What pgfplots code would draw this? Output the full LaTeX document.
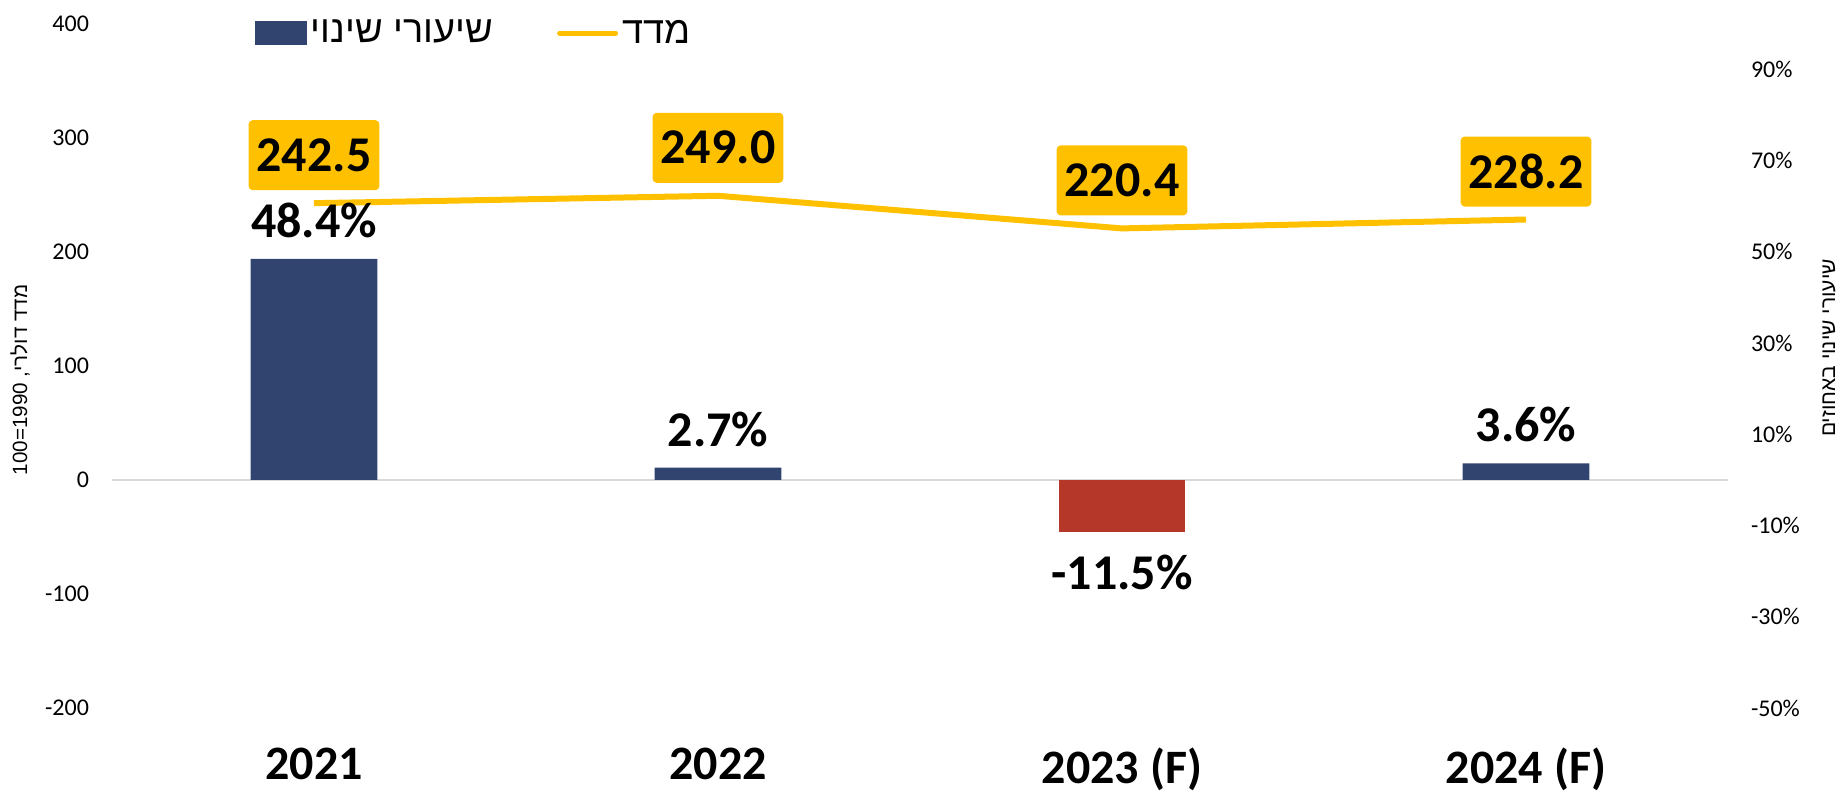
\documentclass[border=0pt]{standalone}
\usepackage{fontspec}
\setmainfont{Carlito}
\newfontfamily\heb[Script=Hebrew]{Liberation Sans}
\newfontfamily\arial{Liberation Sans}
\TeXXeTstate=1
\usepackage{pgfplots}
\pgfplotsset{compat=1.18}
\definecolor{navy}{HTML}{31446F}
\definecolor{redbar}{HTML}{B4372A}
\definecolor{gold}{HTML}{FFC000}
\definecolor{zeroline}{HTML}{D9D9D9}
\begin{document}
\begin{tikzpicture}
\useasboundingbox (-56pt,-42.5pt) rectangle (866pt,354pt);
\pgfplotsset{
 base/.style={width=808pt,height=342.25pt,scale only axis,
   xmin=-0.5,xmax=3.5, axis line style={draw=none}, major tick length=0pt,
   /pgf/number format/assume math mode=true, clip=false}
}
\begin{axis}[base, ymin=-200,ymax=400, ytick={-200,-100,...,400},
  yticklabel style={font=\fontsize{12}{14}\selectfont, xshift=-8pt},
  xtick={0,1,2,3}, xticklabels={2021,2022,2023 (F),2024 (F)},
  xticklabel style={font=\fontsize{24}{28}\selectfont\bfseries, yshift=-16.5pt}]
\draw[zeroline, line width=1pt] (axis cs:-0.5,0) -- (axis cs:3.5,0);
\addplot[gold, line width=3pt, mark=none,
  nodes near coords={\pgfmathprintnumber[fixed,precision=1,fixed zerofill]{\pgfplotspointmeta}},
  every node near coord/.append style={fill=gold, rounded corners=2pt,
    font=\fontsize{25}{30}\selectfont\bfseries, anchor=center, yshift=24pt,
    text=black, inner xsep=4pt, minimum height=35pt}]
  coordinates {(0,242.5)(1,249.0)(2,220.4)(3,228.2)};
\end{axis}
\begin{axis}[base, ymin=-50,ymax=100, ytick={-50,-30,...,90},
  yticklabel pos=right, yticklabel={\pgfmathprintnumber{\tick}\%},
  yticklabel style={font=\fontsize{12}{14}\selectfont, xshift=8pt},
  xtick=\empty, ybar, bar width=0.314,
  nodes near coords={\pgfmathprintnumber[fixed,precision=1,fixed zerofill]{\pgfplotspointmeta}\%},
  every node near coord/.append style={font=\fontsize{25}{30}\selectfont\bfseries, text=black},
  legend style={at={(0.0843,0.986)}, anchor=west, draw=none, fill=none,
    legend columns=2, font=\heb\fontsize{19}{22}\selectfont,
    /tikz/every even column/.append style={column sep=30pt}}]
\addplot[fill=navy, draw=none, bar shift=0pt,
  every node near coord/.append style={yshift=7pt},
  legend image code/.code={\fill[navy] (0pt,-6.2pt) rectangle (26pt,6.2pt);}]
  coordinates {(0,48.4)(1,2.7)(3,3.6)};
\addlegendentry{\beginR שיעורי שינוי\endR}
\addplot[fill=redbar, draw=none, bar shift=0pt, forget plot,
  every node near coord/.append style={yshift=-8pt}]
  coordinates {(2,-11.5)};
\addlegendimage{legend image code/.code={\draw[gold,line width=2.5pt,line cap=round] (0pt,0pt) -- (28pt,0pt);}}
\addlegendentry{\beginR מדד\endR}
\end{axis}
\node[rotate=90, font=\arial\fontsize{10.3}{12}\selectfont] at (-46pt,164pt) {100=1990 {\heb\beginR מדד דולרי,\endR}};
\node[rotate=90, font=\heb\fontsize{10.5}{12}\selectfont] at (858.5pt,180pt) {\beginR שיעורי שינוי באחוזים\endR};
\end{tikzpicture}
\end{document}
